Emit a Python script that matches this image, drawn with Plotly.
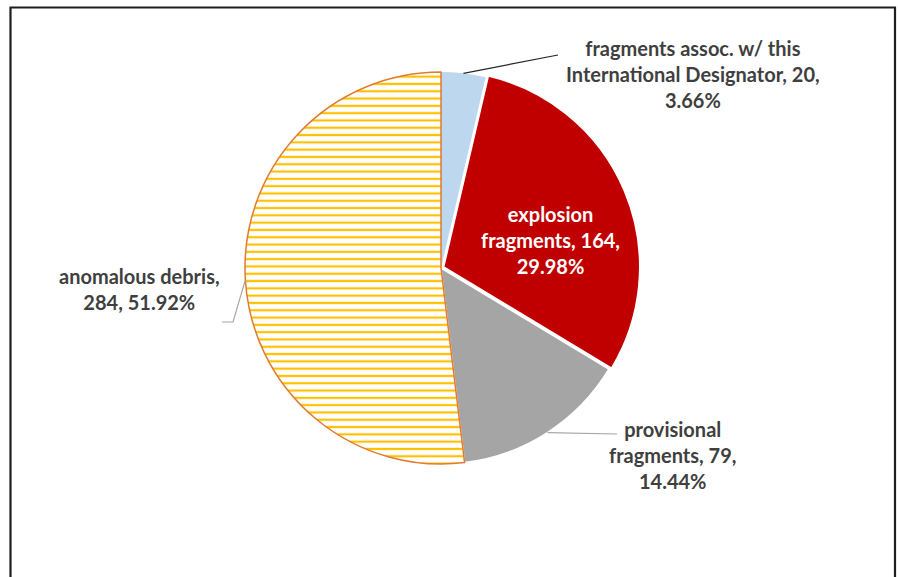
import math
import textwrap
import plotly.graph_objects as go

# Debris categories for this International Designator (clockwise from 12 o'clock)
categories = [
    "fragments assoc. w/ this International Designator",
    "explosion fragments",
    "provisional fragments",
    "anomalous debris",
]
counts = [20, 164, 79, 284]

W, H = 898, 577
CX, CY, R = 441, 268, 196          # pie centre / radius in pixels
PULL = [0, 0.015, 0, 0]

slice_colors = ["#BDD7EE", "#C00000", "#A5A5A5", "#FFFFFF"]
edge_colors = ["rgba(0,0,0,0)", "#FFFFFF", "#FFFFFF", "#E07B2F"]
edge_widths = [0, 1.5, 1.5, 1.5]
wrap_widths = [30, 16, 14, 18]
text_colors = ["#3F3F3F", "#FFFFFF", "#3F3F3F", "#3F3F3F"]
label_centres = [(693, 74), (550, 240), (672, 455), (139, 289)]
leader_colors = ["#262626", None, "#A6A6A6", "#A6A6A6"]
leader_tails = [[(558, 55)], None, [(617, 434)], [(233, 322), (222, 322)]]


def px(x, y):
    return x / W, 1 - y / H


total = sum(counts)
side = 2 * R * (1 + max(PULL))
fig = go.Figure(go.Pie(
    labels=categories,
    values=counts,
    sort=False,
    direction="clockwise",
    rotation=0,
    pull=PULL,
    textinfo="none",
    hoverinfo="label+value+percent",
    marker=dict(
        colors=slice_colors,
        line=dict(color=edge_colors, width=edge_widths),
        pattern=dict(
            shape=["", "", "", "-"],
            fgcolor=["#BDD7EE", "#C00000", "#A5A5A5", "#FFC000"],
            bgcolor=slice_colors,
            size=7.3,
            solidity=0.3,
        ),
    ),
    domain=dict(
        x=[(CX - side / 2) / W, (CX + side / 2) / W],
        y=[(H - CY - side / 2) / H, (H - CY + side / 2) / H],
    ),
    showlegend=False,
))

shapes = []
annotations = []
cum = 0
for i, (lab, v) in enumerate(zip(categories, counts)):
    mid = (cum + v / 2) / total * 2 * math.pi
    cum += v
    pct = v / total * 100
    text = textwrap.fill(f"{lab}, {v}, {pct:.2f}%", wrap_widths[i]).replace("\n", "<br>")
    lx, ly = label_centres[i]
    ax, ay = px(lx, ly)
    annotations.append(dict(
        x=ax, y=ay, xref="paper", yref="paper", xanchor="center", yanchor="middle",
        text=f"<b>{text}</b>", showarrow=False, align="center",
        font=dict(family="Lato", size=20, color=text_colors[i]),
    ))
    if leader_tails[i]:
        sx = CX + R * math.sin(mid)
        sy = CY - R * math.cos(mid)
        pts = [(sx, sy)] + leader_tails[i]
        path = "M " + " L ".join(f"{px(x, y)[0]:.5f},{px(x, y)[1]:.5f}" for x, y in pts)
        shapes.append(dict(type="path", path=path, xref="paper", yref="paper",
                           line=dict(color=leader_colors[i], width=1.2)))

# outer frame
x0, y0 = px(10.5, 7.5)
x1, y1 = px(895, 585)
shapes.append(dict(type="rect", xref="paper", yref="paper", x0=x0, y0=y1, x1=x1, y1=y0,
                   line=dict(color="#1E1E1E", width=2.2), fillcolor="rgba(0,0,0,0)"))

fig.update_layout(
    width=W, height=H, autosize=False,
    margin=dict(l=0, r=0, t=0, b=0),
    paper_bgcolor="white", plot_bgcolor="white",
    shapes=shapes, annotations=annotations,
)

fig.write_html("out.html")
